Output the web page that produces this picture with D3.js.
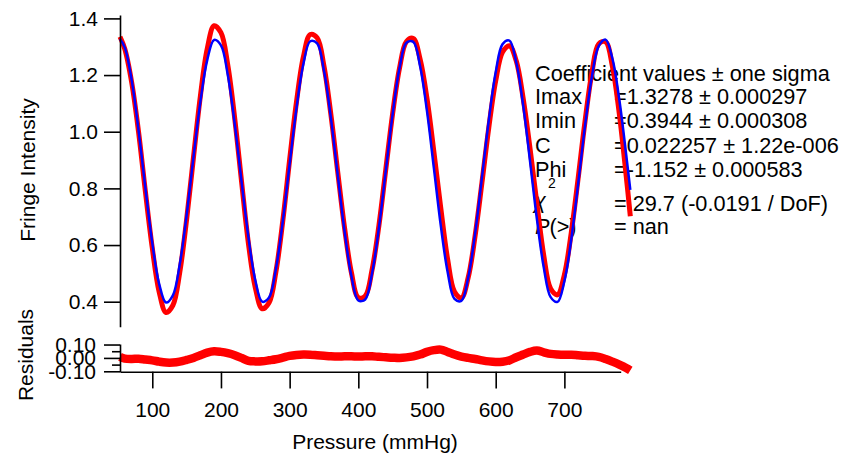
<!DOCTYPE html>
<html>
<head>
<meta charset="utf-8">
<script src="https://cdn.jsdelivr.net/npm/d3@7"></script>
<style>
body { margin: 0; background: #fff; }
svg text { font-family: "Liberation Sans", Arial, sans-serif; }
</style>
</head>
<body>
<div class="chart1"></div>
<script>
// pressure samples (mmHg) and the values at each one
var pressure = [53, 60, 70, 80, 90, 100, 110, 120, 130, 140, 150, 160, 170, 180, 190, 200,
  210, 220, 230, 240, 250, 260, 270, 280, 290, 300, 310, 320, 330, 340, 350, 360, 370, 380,
  390, 400, 410, 420, 430, 440, 450, 460, 470, 480, 490, 500, 510, 520, 530, 540, 550, 560,
  570, 580, 590, 600, 610, 620, 630, 640, 650, 660, 670, 680, 690, 700, 710, 720, 730, 740,
  750, 760, 770, 780, 790, 796];

var fitValues = [1.3271, 1.2968, 1.1822, 1.0055, 0.7999, 0.6075, 0.4630, 0.3970, 0.4226, 0.5320,
  0.7054, 0.9103, 1.1052, 1.2528, 1.3239, 1.3047, 1.1991, 1.0278, 0.8237, 0.6271, 0.4759, 0.4001,
  0.4145, 0.5157, 0.6832, 0.8864, 1.0843, 1.2392, 1.3193, 1.3116, 1.2151, 1.0496, 0.8476, 0.6476,
  0.4898, 0.4044, 0.4079, 0.5005, 0.6615, 0.8626, 1.0631, 1.2248, 1.3142, 1.3172, 1.2303, 1.0716,
  0.8715, 0.6694, 0.5050, 0.4099, 0.4031, 0.4856, 0.6402, 0.8387, 1.0415, 1.2096, 1.3092, 1.3217,
  1.2443, 1.0929, 0.8953, 0.6915, 0.5207, 0.4162, 0.3993, 0.4722, 0.6194, 0.8149, 1.0195, 1.1935,
  1.3021, 1.3250, 1.2575, 1.1130, 0.9191, 0.7948];

var dataValues = [1.3351, 1.2918, 1.1742, 0.9995, 0.7879, 0.5895, 0.4350, 0.3620, 0.3876, 0.5040,
  0.6904, 0.9103, 1.1252, 1.2928, 1.3739, 1.3497, 1.2341, 1.0478, 0.8237, 0.6051, 0.4499, 0.3751,
  0.3965, 0.5057, 0.6852, 0.9014, 1.1063, 1.2642, 1.3433, 1.3316, 1.2311, 1.0616, 0.8576, 0.6596,
  0.5018, 0.4144, 0.4199, 0.5125, 0.6695, 0.8676, 1.0651, 1.2248, 1.3182, 1.3292, 1.2553, 1.1166,
  0.9295, 0.7314, 0.5500, 0.4349, 0.4131, 0.4856, 0.6322, 0.8207, 1.0155, 1.1796, 1.2812, 1.3037,
  1.2493, 1.1179, 0.9403, 0.7465, 0.5627, 0.4462, 0.4243, 0.4952, 0.6434, 0.8349, 1.0355, 1.2075,
  1.3101, 1.3170, 1.2295, 1.0630, 0.8441, 0.7018];

var residValues = [0.008, -0.005, -0.008, -0.006, -0.012, -0.018, -0.028, -0.035, -0.035, -0.028,
  -0.015, 0.000, 0.020, 0.040, 0.050, 0.045, 0.035, 0.020, 0.000, -0.022, -0.026, -0.025,
  -0.018, -0.010, 0.002, 0.015, 0.022, 0.025, 0.024, 0.020, 0.016, 0.012, 0.010, 0.012,
  0.012, 0.010, 0.012, 0.012, 0.008, 0.005, 0.002, 0.000, 0.004, 0.012, 0.025, 0.045,
  0.058, 0.062, 0.045, 0.025, 0.010, 0.000, -0.008, -0.018, -0.026, -0.030, -0.028, -0.018,
  0.005, 0.025, 0.045, 0.055, 0.042, 0.030, 0.025, 0.023, 0.024, 0.020, 0.016, 0.014,
  0.008, -0.008, -0.028, -0.050, -0.075, -0.093];

var xTicks = [100, 200, 300, 400, 500, 600, 700];
var yTicks = [0.4, 0.6, 0.8, 1.0, 1.2, 1.4];
var residTicks = [-0.1, 0, 0.1];
var residMinorTicks = [-0.05, 0.05];

var coefNames = ["Imax", "Imin", "C", "Phi"];
var coefTexts = ["=1.3278 \u00b1 0.000297", "=0.3944 \u00b1 0.000308",
  "=0.022257 \u00b1 1.22e-006", "=-1.152 \u00b1 0.000583"];

var width = 844, height = 458;

var svg = d3.select(".chart1")
    .append("svg")
    .attr("width", width)
    .attr("height", height);

var x = d3.scaleLinear().domain([53, 782]).range([120, 620.7]);
var y = d3.scaleLinear().domain([0.3118, 1.412]).range([326.7, 15]);
var yRes = d3.scaleLinear().domain([-0.103, 0.104]).range([371.7, 344]);

// fit report text box (drawn first, the traces go over it)
var box = svg.append("g").attr("font-size", 21.7).attr("fill", "#000");
box.append("text").attr("x", 535).attr("y", 80.5).text("Coefficient values \u00b1 one sigma");
coefNames.forEach(function(n, i) {
  box.append("text").attr("x", 535).attr("y", 104 + i * 24.3).text(n);
  box.append("text").attr("x", 614).attr("y", 104 + i * 24.3).text(coefTexts[i]);
});
box.append("text").attr("x", 534).attr("y", 208).attr("font-style", "italic").text("\u03c7");
box.append("text").attr("x", 548).attr("y", 188).attr("font-size", 14).text("2");
box.append("text").attr("x", 614).attr("y", 211).text("= 29.7 (-0.0191 / DoF)");
var pl = box.append("text").attr("x", 535).attr("y", 234);
pl.append("tspan").attr("font-style", "italic").text("P");
pl.append("tspan").text("(>)");
box.append("text").attr("x", 614).attr("y", 234).text("= nan");

// traces
var line = d3.line()
    .x(function(d, i) { return x(pressure[i]); })
    .y(function(d) { return y(d); })
    .curve(d3.curveCatmullRom.alpha(0.5));

svg.append("path")
    .datum(dataValues)
    .attr("d", line)
    .attr("fill", "none")
    .attr("stroke", "#ff0000")
    .attr("stroke-width", 5)
    .attr("stroke-linejoin", "round");

svg.append("path")
    .datum(fitValues)
    .attr("d", line)
    .attr("fill", "none")
    .attr("stroke", "#0000ff")
    .attr("stroke-width", 2.5);

var resLine = d3.line()
    .x(function(d, i) { return x(pressure[i]); })
    .y(function(d) { return yRes(d); })
    .curve(d3.curveCatmullRom.alpha(0.5));

svg.append("path")
    .datum(residValues)
    .attr("d", resLine)
    .attr("fill", "none")
    .attr("stroke", "#ff0000")
    .attr("stroke-width", 8.5)
    .attr("stroke-linejoin", "round");

// axes
var yAxis = svg.append("g")
    .attr("transform", "translate(120,0)")
    .call(d3.axisLeft(y).tickValues(yTicks).tickSize(16).tickSizeOuter(0).tickPadding(6)
      .tickFormat(function(d) { return d.toFixed(1); }));

var resAxis = svg.append("g")
    .attr("transform", "translate(120,0)")
    .call(d3.axisLeft(yRes).tickValues(residTicks).tickSize(16).tickSizeOuter(0).tickPadding(8)
      .tickFormat(function(d) { return d.toFixed(2); }));

var resMinor = svg.append("g")
    .attr("transform", "translate(120,0)")
    .call(d3.axisLeft(yRes).tickValues(residMinorTicks).tickSize(8).tickSizeOuter(0)
      .tickFormat(""));
resMinor.select(".domain").remove();

var xAxis = svg.append("g")
    .attr("transform", "translate(0,371.7)")
    .call(d3.axisBottom(x).tickValues(xTicks).tickSize(16.7).tickSizeOuter(0).tickPadding(14));

svg.selectAll(".domain, .tick line")
    .attr("stroke", "#000")
    .attr("stroke-width", 1.6);
svg.selectAll(".tick text")
    .attr("font-size", 21)
    .attr("fill", "#000")
    .style("font-family", "'Liberation Sans', Arial, sans-serif");

// axis labels
svg.append("text")
    .attr("transform", "translate(35,170) rotate(-90)")
    .attr("text-anchor", "middle")
    .attr("font-size", 21)
    .text("Fringe Intensity");

svg.append("text")
    .attr("transform", "translate(33,355) rotate(-90)")
    .attr("text-anchor", "middle")
    .attr("font-size", 21)
    .text("Residuals");

svg.append("text")
    .attr("x", 375)
    .attr("y", 449)
    .attr("text-anchor", "middle")
    .attr("font-size", 21)
    .text("Pressure (mmHg)");
</script>
</body>
</html>
